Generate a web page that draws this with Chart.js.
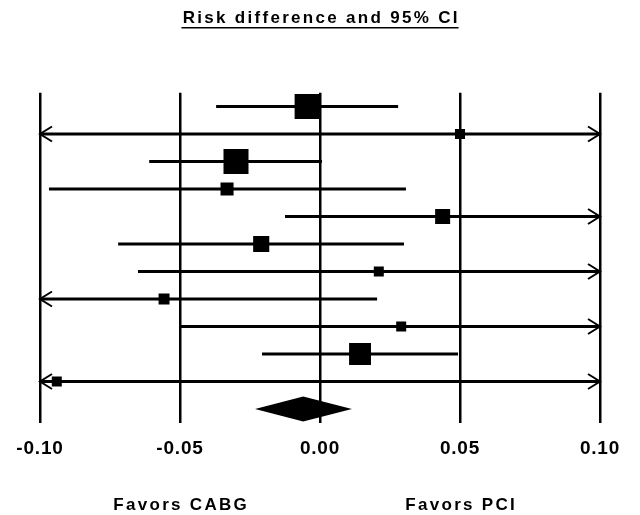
<!DOCTYPE html>
<html>
<head>
<meta charset="utf-8">
<script src="https://cdn.jsdelivr.net/npm/chart.js@4.4.1/dist/chart.umd.min.js"></script>
<style>
  body { margin: 0; background: #fff; }
</style>
</head>
<body>
<canvas id="forest" width="640" height="515"></canvas>
<script>
/* one row per study, top to bottom */
const estimates = [-0.0046, 0.050, -0.030, -0.0332, 0.0438, -0.021, 0.021, -0.0557, 0.029, 0.0143, -0.094];
const lower = [-0.0371, -0.130, -0.061, -0.0968, -0.0125, -0.0721, -0.065, -0.140, -0.050, -0.0207, -0.230];
const upper = [0.0279, 0.230, 0.0007, 0.0307, 0.110, 0.030, 0.120, 0.0204, 0.115, 0.0493, 0.105];
const weights = [6.25, 1.0, 6.25, 1.7, 2.25, 2.6, 1.0, 1.2, 1.0, 4.8, 1.0];
/* pooled estimate (diamond) */
const pooled = { est: -0.006, lower: -0.0232, upper: 0.0114 };
const tickValues = [-0.10, -0.05, 0.00, 0.05, 0.10];
const sideLabels = ["Favors CABG", "Favors PCI"];
const titleText = "Risk difference and 95% CI";

const FONT = "'Liberation Sans', Arial, sans-serif";

/* CI segments, broken with nulls between studies */
const ciPoints = [];
estimates.forEach((e, i) => {
  ciPoints.push({ x: lower[i], y: i + 1 });
  ciPoints.push({ x: upper[i], y: i + 1 });
  ciPoints.push({ x: null, y: null });
});
const squarePoints = estimates.map((e, i) => ({ x: e, y: i + 1 }));
/* square side grows with sqrt of weight; rect radius -> side = 2*r*SQRT1_2 */
const squareRadius = weights.map(w => (10 * Math.sqrt(w)) / (2 * Math.SQRT1_2));

const forestExtras = {
  id: "forestExtras",
  beforeDraw(chart) {
    chart.ctx.letterSpacing = "0.8px";
  },
  afterDatasetsDraw(chart) {
    const ctx = chart.ctx;
    const xs = chart.scales.x;
    const ys = chart.scales.y;
    ctx.save();
    ctx.strokeStyle = "#000";
    ctx.fillStyle = "#000";
    ctx.lineWidth = 2;
    /* arrows where the CI runs off the axis */
    estimates.forEach((e, i) => {
      const y = ys.getPixelForValue(i + 1);
      if (lower[i] < xs.min) {
        const tip = xs.getPixelForValue(xs.min);
        ctx.beginPath();
        ctx.moveTo(tip + 12, y - 7.5);
        ctx.lineTo(tip, y);
        ctx.lineTo(tip + 12, y + 7.5);
        ctx.stroke();
      }
      if (upper[i] > xs.max) {
        const tip = xs.getPixelForValue(xs.max);
        ctx.beginPath();
        ctx.moveTo(tip - 12, y - 7.5);
        ctx.lineTo(tip, y);
        ctx.lineTo(tip - 12, y + 7.5);
        ctx.stroke();
      }
    });
    /* pooled diamond */
    const dy = ys.getPixelForValue(estimates.length + 1);
    ctx.beginPath();
    ctx.moveTo(xs.getPixelForValue(pooled.lower), dy);
    ctx.lineTo(xs.getPixelForValue(pooled.est), dy - 12.5);
    ctx.lineTo(xs.getPixelForValue(pooled.upper), dy);
    ctx.lineTo(xs.getPixelForValue(pooled.est), dy + 12.5);
    ctx.closePath();
    ctx.fill();
    ctx.restore();
  },
  afterDraw(chart) {
    const ctx = chart.ctx;
    const xs = chart.scales.x;
    ctx.save();
    ctx.fillStyle = "#000";
    ctx.textBaseline = "alphabetic";
    ctx.textAlign = "center";
    /* title, underlined */
    ctx.letterSpacing = "2.3px";
    ctx.font = "bold 17px " + FONT;
    const cx = (chart.chartArea.left + chart.chartArea.right) / 2;
    ctx.fillText(titleText, cx + 1.2, 23);
    const w = ctx.measureText(titleText).width;
    ctx.fillRect(cx - w / 2, 27, w, 1.5);
    /* side labels under -0.05 and 0.05 */
    ctx.letterSpacing = "2.3px";
    ctx.fillText(sideLabels[0], xs.getPixelForValue(tickValues[1]) + 1.2, 510);
    ctx.fillText(sideLabels[1], xs.getPixelForValue(tickValues[3]) + 1.2, 510);
    ctx.restore();
    ctx.letterSpacing = "0px";
  }
};

new Chart(document.getElementById("forest"), {
  type: "scatter",
  data: {
    datasets: [
      {
        label: "Estimate",
        data: squarePoints,
        pointStyle: "rect",
        pointRadius: squareRadius,
        pointBackgroundColor: "#000",
        pointBorderWidth: 0
      },
      {
        type: "line",
        label: "95% CI",
        data: ciPoints,
        borderColor: "#000",
        borderWidth: 3,
        pointRadius: 0,
        spanGaps: false,
        tension: 0
      }
    ]
  },
  options: {
    responsive: false,
    animation: false,
    events: [],
    layout: { padding: { top: 92.75, left: 40, right: 40, bottom: 0 } },
    plugins: { legend: { display: false }, tooltip: { enabled: false } },
    scales: {
      x: {
        type: "linear",
        min: -0.1,
        max: 0.1,
        afterBuildTicks(scale) {
          scale.ticks = tickValues.map(v => ({ value: v }));
        },
        afterFit(scale) {
          scale.height = 92.25;
        },
        grid: { color: "#000", lineWidth: 2.5, drawTicks: false },
        border: { display: false },
        ticks: {
          color: "#000",
          padding: 15,
          font: { family: FONT, size: 19, weight: "bold" },
          callback: v => v.toFixed(2)
        }
      },
      y: {
        type: "linear",
        display: false,
        reverse: true,
        min: 0.5,
        max: estimates.length + 1.5
      }
    }
  },
  plugins: [forestExtras]
});
</script>
</body>
</html>
